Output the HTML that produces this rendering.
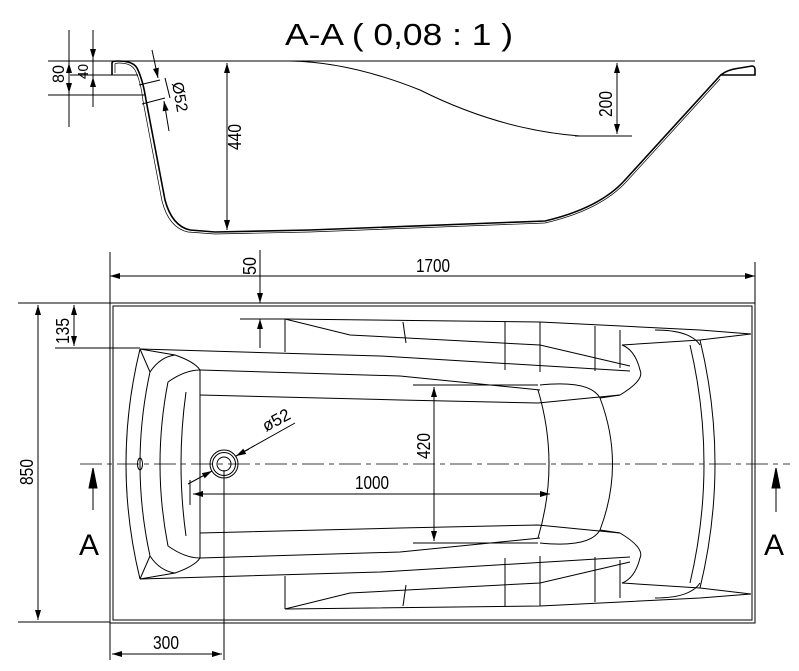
<!DOCTYPE html>
<html><head><meta charset="utf-8"><style>
html,body{margin:0;padding:0;background:#fff;}
svg{display:block;}
text{font-family:"Liberation Sans",sans-serif;fill:#000;}
</style></head><body>
<svg width="799" height="671" viewBox="0 0 799 671" xmlns="http://www.w3.org/2000/svg">
<defs>
<marker id="ar" viewBox="0 0 10 6" refX="10" refY="3" markerWidth="10" markerHeight="6" orient="auto-start-reverse" markerUnits="userSpaceOnUse"><path d="M0,0 L10,3 L0,6 z" fill="#000"/></marker>
</defs>
<g fill="none" stroke="#000" stroke-width="1">
<line x1="110" y1="61" x2="755" y2="61"/>
<path d="M112,75 L112,63 Q112,61 118,61 Q133,61 137,68 Q143,80 146,100 L165,200 Q172,226 190,230 L215,232 L310,230 L545,221 Q600,208 625,180 L718,78 Q724,70 740,68 L752,66 Q755,66 755,70 L755,75 L720,75" stroke-width="1.6"/>
<path d="M115,73 L115,64 Q116,63 119,63 Q131,63 135,70 Q141,82 143,101 L162,201 Q169,228 188,232 L215,234 L310,232 L545,223 Q601,210 627,181 L720,79" stroke-width="0.7"/>
<path d="M112,75 L138,75" />
<path d="M290,61 Q350,62 420,90 Q500,130 580,136"/>
<line x1="575" y1="136" x2="632" y2="136"/>
<line x1="617" y1="63" x2="617" y2="134" marker-start="url(#ar)" marker-end="url(#ar)"/>
<line x1="227" y1="63" x2="227" y2="230" marker-start="url(#ar)" marker-end="url(#ar)"/>
<line x1="48" y1="95" x2="145" y2="95"/>
<line x1="48" y1="61" x2="110" y2="61"/>
<line x1="70" y1="75" x2="113" y2="75"/>
<line x1="69" y1="30" x2="69" y2="127"/>
<line x1="69" y1="63" x2="69" y2="93" marker-start="url(#ar)" marker-end="url(#ar)"/>
<line x1="93" y1="30" x2="93" y2="59" marker-end="url(#ar)"/>
<line x1="93" y1="107" x2="93" y2="77" marker-end="url(#ar)"/>
<line x1="93" y1="59" x2="93" y2="77"/>
<line x1="139" y1="85" x2="160" y2="80"/>
<line x1="142" y1="104" x2="165" y2="98"/>
<line x1="152" y1="50" x2="158" y2="78" marker-end="url(#ar)"/>
<line x1="169" y1="131" x2="164" y2="101" marker-end="url(#ar)"/>
<line x1="165" y1="78" x2="170" y2="98"/>

<rect x="110" y="303" width="645" height="320"/>
<rect x="113" y="306" width="639" height="314"/>
<line x1="110" y1="252" x2="110" y2="303"/>
<line x1="755" y1="262" x2="755" y2="303"/>
<line x1="110" y1="276" x2="755" y2="276" marker-start="url(#ar)" marker-end="url(#ar)"/>
<line x1="260" y1="250" x2="260" y2="303" marker-end="url(#ar)"/>
<line x1="260" y1="348" x2="260" y2="319" marker-end="url(#ar)"/>
<line x1="240" y1="319" x2="285" y2="319"/>
<line x1="18" y1="303" x2="110" y2="303"/>
<line x1="18" y1="622" x2="110" y2="622"/>
<line x1="55" y1="348" x2="140" y2="348"/>
<line x1="38" y1="305" x2="38" y2="620" marker-start="url(#ar)" marker-end="url(#ar)"/>
<line x1="74" y1="305" x2="74" y2="346" marker-start="url(#ar)" marker-end="url(#ar)"/>
<line x1="110" y1="623" x2="110" y2="660"/>
<line x1="224" y1="470" x2="224" y2="660"/>
<line x1="112" y1="654" x2="222" y2="654" marker-start="url(#ar)" marker-end="url(#ar)"/>
<line x1="434" y1="387" x2="434" y2="541" marker-start="url(#ar)" marker-end="url(#ar)"/>
<line x1="413" y1="385" x2="538" y2="385"/>
<line x1="413" y1="543" x2="538" y2="543"/>
<line x1="193" y1="494" x2="550" y2="494" marker-start="url(#ar)" marker-end="url(#ar)"/>
<line x1="188" y1="484" x2="212" y2="471" marker-end="url(#ar)"/>
<line x1="295" y1="423" x2="236" y2="456" />
<line x1="249" y1="449" x2="236" y2="456" marker-end="url(#ar)"/>
<line x1="190" y1="480" x2="190" y2="505"/>
<line x1="80" y1="464" x2="790" y2="464" stroke-dasharray="22,5,5,5" stroke-width="0.8"/>
<line x1="93" y1="470" x2="93" y2="510"/>
<path d="M89,488 L93,468 L97,488 z" fill="#000"/>
<line x1="776" y1="470" x2="776" y2="512"/>
<path d="M772,488 L776,468 L780,488 z" fill="#000"/>
<circle cx="224" cy="464" r="14"/><circle cx="224" cy="464" r="11.5"/><circle cx="224" cy="464" r="7"/>
<ellipse cx="140" cy="464" rx="2.5" ry="6"/>
<path d="M140,349 Q112,464 140,579"/>
<path d="M150,372 Q130,464 150,556"/>
<path d="M168,382 Q152,464 168,546"/>
<path d="M186,392 Q176,464 186,536"/>
<path d="M140,349 L150,372 M140,579 L150,556"/>
<path d="M140,349 L175,355 Q195,362 200,370 L200,558 Q195,566 175,573 L140,579"/>
<path d="M150,372 Q160,357 175,355 M150,556 Q160,571 175,573"/>
<path d="M168,382 Q185,370 200,370 M168,546 Q185,558 200,558"/>
<path d="M140,349 L380,356 L630,371"/>
<path d="M140,579 L380,572 L630,557"/>
<path d="M200,370 L400,376 L540,390"/>
<path d="M200,395 L400,400 L538,403 L620,395"/>
<path d="M200,533 L400,528 L538,525 L620,533"/>
<path d="M200,558 L400,552 L540,538"/>
<path d="M538,390 Q560,464 538,538"/>
<path d="M540,385 Q590,380 600,398 Q625,464 600,530 Q590,548 540,543"/>
<path d="M600,398 L620,395 Q645,380 640,370 Q635,350 622,345"/>
<path d="M600,530 L620,533 Q645,548 640,558 Q635,578 622,583"/>
<path d="M285,319 L540,322 L700,330 L751,334"/>
<path d="M285,319 L350,335 L540,345 L630,366"/>
<path d="M285,319 L285,352"/>
<path d="M285,609 L540,606 L700,598 L751,594"/>
<path d="M285,609 L350,593 L540,583 L630,562"/>
<path d="M285,609 L285,576"/>
<path d="M622,345 L700,340 L751,334 M622,583 L700,588 L751,594"/>
<path d="M700,340 Q730,464 700,588"/>
<path d="M690,345 Q718,464 690,583"/>
<path d="M655,330 Q690,330 700,345 M655,598 Q690,598 700,583"/>
<line x1="505" y1="322" x2="505" y2="370"/><line x1="540" y1="322" x2="540" y2="372"/><line x1="595" y1="326" x2="595" y2="371"/>
<line x1="505" y1="606" x2="505" y2="558"/><line x1="540" y1="606" x2="540" y2="556"/><line x1="595" y1="602" x2="595" y2="557"/>
<line x1="620" y1="330" x2="620" y2="368"/><line x1="620" y1="598" x2="620" y2="560"/>
<line x1="403" y1="322" x2="406" y2="343"/><line x1="403" y1="606" x2="406" y2="585"/>
</g>
<g font-size="17">
<text x="285" y="45" font-size="31" textLength="228" lengthAdjust="spacingAndGlyphs">A-A ( 0,08 : 1 )</text>
<text x="433" y="272" text-anchor="middle" font-size="18" textLength="34" lengthAdjust="spacingAndGlyphs">1700</text>
<text x="372" y="489" text-anchor="middle" font-size="18" textLength="34" lengthAdjust="spacingAndGlyphs">1000</text>
<text x="166" y="649" text-anchor="middle" font-size="18" textLength="26" lengthAdjust="spacingAndGlyphs">300</text>
<text x="79" y="555" font-size="30">A</text>
<text x="764" y="555" font-size="30">A</text>
<text transform="translate(256,275) rotate(-90)" font-size="18" textLength="18" lengthAdjust="spacingAndGlyphs">50</text>
<text transform="translate(69,344) rotate(-90)" font-size="18" textLength="26" lengthAdjust="spacingAndGlyphs">135</text>
<text transform="translate(33,485) rotate(-90)" font-size="18" textLength="26" lengthAdjust="spacingAndGlyphs">850</text>
<text transform="translate(430,459) rotate(-90)" font-size="18" textLength="26" lengthAdjust="spacingAndGlyphs">420</text>
<text transform="translate(241,150) rotate(-90)" font-size="18" textLength="26" lengthAdjust="spacingAndGlyphs">440</text>
<text transform="translate(612,117) rotate(-90)" font-size="18" textLength="26" lengthAdjust="spacingAndGlyphs">200</text>
<text transform="translate(64,83) rotate(-90)" font-size="17" textLength="18" lengthAdjust="spacingAndGlyphs">80</text>
<text transform="translate(88,79) rotate(-90)" font-size="15" textLength="15" lengthAdjust="spacingAndGlyphs">40</text>
<text transform="translate(172,83) rotate(80)" font-size="16">Ø52</text>
<text transform="translate(266,432) rotate(-28)" font-size="17">ø52</text>
</g>
</svg>
</body></html>
